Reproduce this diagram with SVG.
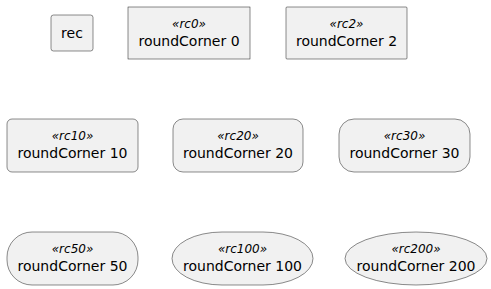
<svg xmlns="http://www.w3.org/2000/svg" width="491" height="289" viewBox="0 0 491 289">
<style>
.n{fill:#F1F1F1;stroke:#181818;stroke-width:0.5}
.t{font-family:"DejaVu Sans",sans-serif;font-size:14px;fill:#000;text-anchor:middle}
.s{font-family:"DejaVu Sans",sans-serif;font-size:12px;font-style:italic;fill:#000;text-anchor:middle}
</style>
<rect width="491" height="289" fill="#FFFFFF"/>
<g id="rec"><rect class="n" x="51" y="15" width="42" height="36" rx="2.5" ry="2.5"/><text class="t" x="72" y="38">rec</text></g>
<g id="rc0"><rect class="n" x="128" y="7" width="122" height="52"/><text class="s" x="189" y="28">«rc0»</text><text class="t" x="189" y="46">roundCorner 0</text></g>
<g id="rc2"><rect class="n" x="286" y="7" width="121" height="52" rx="1" ry="1"/><text class="s" x="346.5" y="28">«rc2»</text><text class="t" x="346.5" y="46">roundCorner 2</text></g>
<g id="rc10"><rect class="n" x="7" y="119" width="131" height="53" rx="5" ry="5"/><text class="s" x="72.5" y="140">«rc10»</text><text class="t" x="72.5" y="158">roundCorner 10</text></g>
<g id="rc20"><rect class="n" x="173" y="119" width="130" height="53" rx="10" ry="10"/><text class="s" x="238" y="140">«rc20»</text><text class="t" x="238" y="158">roundCorner 20</text></g>
<g id="rc30"><rect class="n" x="339" y="119" width="131" height="53" rx="15" ry="15"/><text class="s" x="404.5" y="140">«rc30»</text><text class="t" x="404.5" y="158">roundCorner 30</text></g>
<g id="rc50"><rect class="n" x="7" y="232" width="131" height="53" rx="25" ry="25"/><text class="s" x="72.5" y="253">«rc50»</text><text class="t" x="72.5" y="271">roundCorner 50</text></g>
<g id="rc100"><rect class="n" x="172" y="232" width="141" height="53" rx="50" ry="50"/><text class="s" x="242.5" y="253">«rc100»</text><text class="t" x="242.5" y="271">roundCorner 100</text></g>
<g id="rc200"><rect class="n" x="345" y="232" width="142" height="53" rx="100" ry="100"/><text class="s" x="416" y="253">«rc200»</text><text class="t" x="416" y="271">roundCorner 200</text></g>
<g id="connectors"></g>
</svg>
